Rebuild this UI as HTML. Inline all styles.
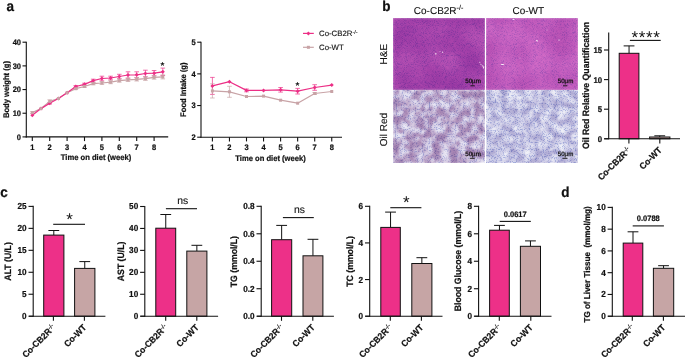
<!DOCTYPE html>
<html><head><meta charset="utf-8"><title>Figure</title>
<style>
html,body{margin:0;padding:0;background:#fff;}
body{width:685px;height:358px;overflow:hidden;}
svg{display:block;font-family:"Liberation Sans",sans-serif;will-change:transform;text-rendering:geometricPrecision;}
</style></head>
<body>
<svg width="685" height="358" viewBox="0 0 685 358">
<defs>
<filter id="he1" x="0" y="0" width="1" height="1" color-interpolation-filters="sRGB">
  <feTurbulence type="fractalNoise" baseFrequency="0.04" numOctaves="1" seed="3" result="a"/>
  <feColorMatrix in="a" type="matrix" values="1 0 0 0 0  1 0 0 0 0  1 0 0 0 0  0 0 0 0 1" result="ga"/>
  <feComponentTransfer in="ga" result="ca">
    <feFuncR type="table" tableValues="0.655 0.655 0.655 0.655 0.655 0.655 0.655 0.666 0.676 0.687 0.698 0.712 0.725 0.739 0.753 0.753 0.753 0.753 0.753 0.753 0.753"/><feFuncG type="table" tableValues="0.255 0.255 0.255 0.255 0.255 0.255 0.255 0.264 0.273 0.281 0.290 0.304 0.318 0.331 0.345 0.345 0.345 0.345 0.345 0.345 0.345"/><feFuncB type="table" tableValues="0.667 0.667 0.667 0.667 0.667 0.667 0.667 0.673 0.678 0.684 0.690 0.698 0.706 0.714 0.722 0.722 0.722 0.722 0.722 0.722 0.722"/>
  </feComponentTransfer>
  <feTurbulence type="fractalNoise" baseFrequency="1.1" numOctaves="2" seed="4" result="b"/>
  <feColorMatrix in="b" type="matrix" values="0 1 0 0 0  0 1 0 0 0  0 1 0 0 0  0 0 0 0 1" result="gb"/>
  <feComponentTransfer in="gb" result="cb">
    <feFuncR type="table" tableValues="0.627 0.627 0.627 0.627 0.627 0.627 0.699 0.770 0.842 0.891 0.925 0.949 0.973 0.990 1.000 1.000 1.000 1.000 1.000 1.000 1.000"/><feFuncG type="table" tableValues="0.667 0.667 0.667 0.667 0.667 0.667 0.715 0.764 0.812 0.852 0.886 0.918 0.949 0.981 1.000 1.000 1.000 1.000 1.000 1.000 1.000"/><feFuncB type="table" tableValues="0.871 0.871 0.871 0.871 0.871 0.871 0.894 0.917 0.940 0.956 0.969 0.976 0.984 0.994 1.000 1.000 1.000 1.000 1.000 1.000 1.000"/>
  </feComponentTransfer>
  <feBlend in="ca" in2="cb" mode="multiply" result="m"/>
  <feGaussianBlur in="m" stdDeviation="0.85" result="bl"/><feComposite in="bl" in2="m" operator="arithmetic" k1="0" k2="0.5" k3="0.5" k4="0"/>
</filter>
<filter id="he2" x="0" y="0" width="1" height="1" color-interpolation-filters="sRGB">
  <feTurbulence type="fractalNoise" baseFrequency="0.04" numOctaves="1" seed="9" result="a"/>
  <feColorMatrix in="a" type="matrix" values="1 0 0 0 0  1 0 0 0 0  1 0 0 0 0  0 0 0 0 1" result="ga"/>
  <feComponentTransfer in="ga" result="ca">
    <feFuncR type="table" tableValues="0.773 0.773 0.773 0.773 0.773 0.773 0.773 0.781 0.790 0.799 0.808 0.819 0.829 0.840 0.851 0.851 0.851 0.851 0.851 0.851 0.851"/><feFuncG type="table" tableValues="0.357 0.357 0.357 0.357 0.357 0.357 0.357 0.367 0.376 0.386 0.396 0.408 0.420 0.431 0.443 0.443 0.443 0.443 0.443 0.443 0.443"/><feFuncB type="table" tableValues="0.733 0.733 0.733 0.733 0.733 0.733 0.733 0.740 0.747 0.754 0.761 0.769 0.776 0.784 0.792 0.792 0.792 0.792 0.792 0.792 0.792"/>
  </feComponentTransfer>
  <feTurbulence type="fractalNoise" baseFrequency="1.1" numOctaves="2" seed="12" result="b"/>
  <feColorMatrix in="b" type="matrix" values="0 1 0 0 0  0 1 0 0 0  0 1 0 0 0  0 0 0 0 1" result="gb"/>
  <feComponentTransfer in="gb" result="cb">
    <feFuncR type="table" tableValues="0.667 0.667 0.667 0.667 0.667 0.667 0.731 0.796 0.860 0.904 0.933 0.955 0.976 0.991 1.000 1.000 1.000 1.000 1.000 1.000 1.000"/><feFuncG type="table" tableValues="0.706 0.706 0.706 0.706 0.706 0.706 0.747 0.789 0.830 0.865 0.894 0.925 0.957 0.984 1.000 1.000 1.000 1.000 1.000 1.000 1.000"/><feFuncB type="table" tableValues="0.894 0.894 0.894 0.894 0.894 0.894 0.911 0.929 0.946 0.960 0.973 0.980 0.988 0.996 1.000 1.000 1.000 1.000 1.000 1.000 1.000"/>
  </feComponentTransfer>
  <feBlend in="ca" in2="cb" mode="multiply" result="m"/>
  <feGaussianBlur in="m" stdDeviation="0.85" result="bl"/><feComposite in="bl" in2="m" operator="arithmetic" k1="0" k2="0.5" k3="0.5" k4="0"/>
</filter>
<filter id="or1" x="0" y="0" width="1" height="1" color-interpolation-filters="sRGB">
  <feTurbulence type="fractalNoise" baseFrequency="0.12" numOctaves="3" seed="5" result="a"/>
  <feColorMatrix in="a" type="matrix" values="1 0 0 0 0  1 0 0 0 0  1 0 0 0 0  0 0 0 0 1" result="ga"/>
  <feComponentTransfer in="ga" result="ca">
    <feFuncR type="table" tableValues="0.667 0.667 0.667 0.667 0.667 0.667 0.677 0.702 0.727 0.761 0.800 0.834 0.865 0.894 0.912 0.931 0.949 0.949 0.949 0.949 0.949"/><feFuncG type="table" tableValues="0.533 0.533 0.533 0.533 0.533 0.533 0.547 0.580 0.614 0.665 0.728 0.780 0.826 0.868 0.892 0.917 0.941 0.941 0.941 0.941 0.941"/><feFuncB type="table" tableValues="0.706 0.706 0.706 0.706 0.706 0.706 0.715 0.739 0.763 0.797 0.838 0.873 0.902 0.928 0.943 0.958 0.973 0.973 0.973 0.973 0.973"/>
  </feComponentTransfer>
  <feTurbulence type="fractalNoise" baseFrequency="0.85" numOctaves="2" seed="6" result="b"/>
  <feColorMatrix in="b" type="matrix" values="0 1 0 0 0  0 1 0 0 0  0 1 0 0 0  0 0 0 0 1" result="gb"/>
  <feComponentTransfer in="gb" result="cb">
    <feFuncR type="table" tableValues="0.549 0.549 0.549 0.549 0.549 0.549 0.611 0.713 0.816 0.918 1.000 1.000 1.000 1.000 1.000 1.000 1.000 1.000 1.000 1.000 1.000"/><feFuncG type="table" tableValues="0.588 0.588 0.588 0.588 0.588 0.588 0.641 0.728 0.816 0.918 1.000 1.000 1.000 1.000 1.000 1.000 1.000 1.000 1.000 1.000 1.000"/><feFuncB type="table" tableValues="0.831 0.831 0.831 0.831 0.831 0.831 0.855 0.894 0.933 0.970 1.000 1.000 1.000 1.000 1.000 1.000 1.000 1.000 1.000 1.000 1.000"/>
  </feComponentTransfer>
  <feBlend in="ca" in2="cb" mode="multiply" result="m"/>
  <feGaussianBlur in="m" stdDeviation="0.85" result="bl"/><feComposite in="bl" in2="m" operator="arithmetic" k1="0" k2="0.5" k3="0.5" k4="0"/>
</filter>
<filter id="or2" x="0" y="0" width="1" height="1" color-interpolation-filters="sRGB">
  <feTurbulence type="fractalNoise" baseFrequency="0.12" numOctaves="3" seed="15" result="a"/>
  <feColorMatrix in="a" type="matrix" values="1 0 0 0 0  1 0 0 0 0  1 0 0 0 0  0 0 0 0 1" result="ga"/>
  <feComponentTransfer in="ga" result="ca">
    <feFuncR type="table" tableValues="0.714 0.714 0.714 0.714 0.714 0.714 0.724 0.749 0.774 0.805 0.841 0.871 0.897 0.921 0.937 0.953 0.969 0.969 0.969 0.969 0.969"/><feFuncG type="table" tableValues="0.690 0.690 0.690 0.690 0.690 0.690 0.701 0.729 0.757 0.792 0.831 0.864 0.892 0.917 0.934 0.951 0.969 0.969 0.969 0.969 0.969"/><feFuncB type="table" tableValues="0.835 0.835 0.835 0.835 0.835 0.835 0.843 0.861 0.879 0.898 0.918 0.933 0.946 0.959 0.967 0.976 0.984 0.984 0.984 0.984 0.984"/>
  </feComponentTransfer>
  <feTurbulence type="fractalNoise" baseFrequency="0.85" numOctaves="2" seed="16" result="b"/>
  <feColorMatrix in="b" type="matrix" values="0 1 0 0 0  0 1 0 0 0  0 1 0 0 0  0 0 0 0 1" result="gb"/>
  <feComponentTransfer in="gb" result="cb">
    <feFuncR type="table" tableValues="0.510 0.510 0.510 0.510 0.510 0.510 0.575 0.684 0.792 0.908 1.000 1.000 1.000 1.000 1.000 1.000 1.000 1.000 1.000 1.000 1.000"/><feFuncG type="table" tableValues="0.573 0.573 0.573 0.573 0.573 0.573 0.627 0.717 0.808 0.915 1.000 1.000 1.000 1.000 1.000 1.000 1.000 1.000 1.000 1.000 1.000"/><feFuncB type="table" tableValues="0.831 0.831 0.831 0.831 0.831 0.831 0.855 0.894 0.933 0.970 1.000 1.000 1.000 1.000 1.000 1.000 1.000 1.000 1.000 1.000 1.000"/>
  </feComponentTransfer>
  <feBlend in="ca" in2="cb" mode="multiply" result="m"/>
  <feGaussianBlur in="m" stdDeviation="0.85" result="bl"/><feComposite in="bl" in2="m" operator="arithmetic" k1="0" k2="0.5" k3="0.5" k4="0"/>
</filter></defs>
<rect width="685" height="358" fill="#fff"/>
<text transform="translate(6.40 10.70) scale(0.94 1)" font-size="14.362" font-weight="bold" text-anchor="start" fill="#111" stroke="#111" stroke-width="0.22" >a</text>
<text transform="translate(382.20 10.70) scale(0.94 1)" font-size="14.362" font-weight="bold" text-anchor="start" fill="#111" stroke="#111" stroke-width="0.22" >b</text>
<text transform="translate(0.30 196.80) scale(0.94 1)" font-size="14.362" font-weight="bold" text-anchor="start" fill="#111" stroke="#111" stroke-width="0.22" >c</text>
<text transform="translate(561.30 196.80) scale(0.94 1)" font-size="14.362" font-weight="bold" text-anchor="start" fill="#111" stroke="#111" stroke-width="0.22" >d</text>
<line x1="26.30" y1="41.65" x2="26.30" y2="137.45" stroke="#111" stroke-width="1.1" />
<line x1="25.75" y1="136.90" x2="168.20" y2="136.90" stroke="#111" stroke-width="1.1" />
<line x1="22.50" y1="136.90" x2="26.30" y2="136.90" stroke="#111" stroke-width="1.1" />
<text transform="translate(21.00 139.60) scale(0.94 1)" font-size="7.979" font-weight="bold" text-anchor="end" fill="#111" stroke="#111" stroke-width="0.22" >0</text>
<line x1="22.50" y1="113.23" x2="26.30" y2="113.23" stroke="#111" stroke-width="1.1" />
<text transform="translate(21.00 115.93) scale(0.94 1)" font-size="7.979" font-weight="bold" text-anchor="end" fill="#111" stroke="#111" stroke-width="0.22" >10</text>
<line x1="22.50" y1="89.55" x2="26.30" y2="89.55" stroke="#111" stroke-width="1.1" />
<text transform="translate(21.00 92.25) scale(0.94 1)" font-size="7.979" font-weight="bold" text-anchor="end" fill="#111" stroke="#111" stroke-width="0.22" >20</text>
<line x1="22.50" y1="65.88" x2="26.30" y2="65.88" stroke="#111" stroke-width="1.1" />
<text transform="translate(21.00 68.58) scale(0.94 1)" font-size="7.979" font-weight="bold" text-anchor="end" fill="#111" stroke="#111" stroke-width="0.22" >30</text>
<line x1="22.50" y1="42.20" x2="26.30" y2="42.20" stroke="#111" stroke-width="1.1" />
<text transform="translate(21.00 44.90) scale(0.94 1)" font-size="7.979" font-weight="bold" text-anchor="end" fill="#111" stroke="#111" stroke-width="0.22" >40</text>
<line x1="32.30" y1="136.90" x2="32.30" y2="141.10" stroke="#111" stroke-width="1.1" />
<text transform="translate(32.30 149.50) scale(0.94 1)" font-size="7.979" font-weight="bold" text-anchor="middle" fill="#111" stroke="#111" stroke-width="0.22" >1</text>
<line x1="49.70" y1="136.90" x2="49.70" y2="141.10" stroke="#111" stroke-width="1.1" />
<text transform="translate(49.70 149.50) scale(0.94 1)" font-size="7.979" font-weight="bold" text-anchor="middle" fill="#111" stroke="#111" stroke-width="0.22" >2</text>
<line x1="67.10" y1="136.90" x2="67.10" y2="141.10" stroke="#111" stroke-width="1.1" />
<text transform="translate(67.10 149.50) scale(0.94 1)" font-size="7.979" font-weight="bold" text-anchor="middle" fill="#111" stroke="#111" stroke-width="0.22" >3</text>
<line x1="84.50" y1="136.90" x2="84.50" y2="141.10" stroke="#111" stroke-width="1.1" />
<text transform="translate(84.50 149.50) scale(0.94 1)" font-size="7.979" font-weight="bold" text-anchor="middle" fill="#111" stroke="#111" stroke-width="0.22" >4</text>
<line x1="101.90" y1="136.90" x2="101.90" y2="141.10" stroke="#111" stroke-width="1.1" />
<text transform="translate(101.90 149.50) scale(0.94 1)" font-size="7.979" font-weight="bold" text-anchor="middle" fill="#111" stroke="#111" stroke-width="0.22" >5</text>
<line x1="119.30" y1="136.90" x2="119.30" y2="141.10" stroke="#111" stroke-width="1.1" />
<text transform="translate(119.30 149.50) scale(0.94 1)" font-size="7.979" font-weight="bold" text-anchor="middle" fill="#111" stroke="#111" stroke-width="0.22" >6</text>
<line x1="136.70" y1="136.90" x2="136.70" y2="141.10" stroke="#111" stroke-width="1.1" />
<text transform="translate(136.70 149.50) scale(0.94 1)" font-size="7.979" font-weight="bold" text-anchor="middle" fill="#111" stroke="#111" stroke-width="0.22" >7</text>
<line x1="154.10" y1="136.90" x2="154.10" y2="141.10" stroke="#111" stroke-width="1.1" />
<text transform="translate(154.10 149.50) scale(0.94 1)" font-size="7.979" font-weight="bold" text-anchor="middle" fill="#111" stroke="#111" stroke-width="0.22" >8</text>
<text transform="translate(8.50 89.55) rotate(-90) scale(0.94 1)" font-size="8.085" font-weight="bold" text-anchor="middle" fill="#111" stroke="#111" stroke-width="0.22" >Body weight (g)</text>
<text transform="translate(96.00 160.20) scale(0.94 1)" font-size="8.085" font-weight="bold" text-anchor="middle" fill="#111" stroke="#111" stroke-width="0.22" >Time on diet (week)</text>
<line x1="49.70" y1="102.40" x2="49.70" y2="104.00" stroke="#EC2F86" stroke-width="0.7" />
<line x1="47.40" y1="102.40" x2="52.00" y2="102.40" stroke="#EC2F86" stroke-width="0.7" />
<line x1="47.40" y1="104.00" x2="52.00" y2="104.00" stroke="#EC2F86" stroke-width="0.7" />
<line x1="75.80" y1="85.60" x2="75.80" y2="87.40" stroke="#EC2F86" stroke-width="0.7" />
<line x1="73.50" y1="85.60" x2="78.10" y2="85.60" stroke="#EC2F86" stroke-width="0.7" />
<line x1="73.50" y1="87.40" x2="78.10" y2="87.40" stroke="#EC2F86" stroke-width="0.7" />
<line x1="84.50" y1="83.20" x2="84.50" y2="85.40" stroke="#EC2F86" stroke-width="0.7" />
<line x1="82.20" y1="83.20" x2="86.80" y2="83.20" stroke="#EC2F86" stroke-width="0.7" />
<line x1="82.20" y1="85.40" x2="86.80" y2="85.40" stroke="#EC2F86" stroke-width="0.7" />
<line x1="93.20" y1="79.20" x2="93.20" y2="82.20" stroke="#EC2F86" stroke-width="0.7" />
<line x1="90.90" y1="79.20" x2="95.50" y2="79.20" stroke="#EC2F86" stroke-width="0.7" />
<line x1="90.90" y1="82.20" x2="95.50" y2="82.20" stroke="#EC2F86" stroke-width="0.7" />
<line x1="101.90" y1="76.20" x2="101.90" y2="80.80" stroke="#EC2F86" stroke-width="0.7" />
<line x1="99.60" y1="76.20" x2="104.20" y2="76.20" stroke="#EC2F86" stroke-width="0.7" />
<line x1="99.60" y1="80.80" x2="104.20" y2="80.80" stroke="#EC2F86" stroke-width="0.7" />
<line x1="110.60" y1="76.20" x2="110.60" y2="79.80" stroke="#EC2F86" stroke-width="0.7" />
<line x1="108.30" y1="76.20" x2="112.90" y2="76.20" stroke="#EC2F86" stroke-width="0.7" />
<line x1="108.30" y1="79.80" x2="112.90" y2="79.80" stroke="#EC2F86" stroke-width="0.7" />
<line x1="119.30" y1="74.30" x2="119.30" y2="78.70" stroke="#EC2F86" stroke-width="0.7" />
<line x1="117.00" y1="74.30" x2="121.60" y2="74.30" stroke="#EC2F86" stroke-width="0.7" />
<line x1="117.00" y1="78.70" x2="121.60" y2="78.70" stroke="#EC2F86" stroke-width="0.7" />
<line x1="128.00" y1="71.80" x2="128.00" y2="78.20" stroke="#EC2F86" stroke-width="0.7" />
<line x1="125.70" y1="71.80" x2="130.30" y2="71.80" stroke="#EC2F86" stroke-width="0.7" />
<line x1="125.70" y1="78.20" x2="130.30" y2="78.20" stroke="#EC2F86" stroke-width="0.7" />
<line x1="136.70" y1="71.80" x2="136.70" y2="77.80" stroke="#EC2F86" stroke-width="0.7" />
<line x1="134.40" y1="71.80" x2="139.00" y2="71.80" stroke="#EC2F86" stroke-width="0.7" />
<line x1="134.40" y1="77.80" x2="139.00" y2="77.80" stroke="#EC2F86" stroke-width="0.7" />
<line x1="145.40" y1="70.20" x2="145.40" y2="76.80" stroke="#EC2F86" stroke-width="0.7" />
<line x1="143.10" y1="70.20" x2="147.70" y2="70.20" stroke="#EC2F86" stroke-width="0.7" />
<line x1="143.10" y1="76.80" x2="147.70" y2="76.80" stroke="#EC2F86" stroke-width="0.7" />
<line x1="154.10" y1="70.50" x2="154.10" y2="75.90" stroke="#EC2F86" stroke-width="0.7" />
<line x1="151.80" y1="70.50" x2="156.40" y2="70.50" stroke="#EC2F86" stroke-width="0.7" />
<line x1="151.80" y1="75.90" x2="156.40" y2="75.90" stroke="#EC2F86" stroke-width="0.7" />
<line x1="162.80" y1="68.10" x2="162.80" y2="75.50" stroke="#EC2F86" stroke-width="0.7" />
<line x1="160.50" y1="68.10" x2="165.10" y2="68.10" stroke="#EC2F86" stroke-width="0.7" />
<line x1="160.50" y1="75.50" x2="165.10" y2="75.50" stroke="#EC2F86" stroke-width="0.7" />
<line x1="32.30" y1="111.70" x2="32.30" y2="113.50" stroke="#C8A3A6" stroke-width="0.7" />
<line x1="30.00" y1="111.70" x2="34.60" y2="111.70" stroke="#C8A3A6" stroke-width="0.7" />
<line x1="30.00" y1="113.50" x2="34.60" y2="113.50" stroke="#C8A3A6" stroke-width="0.7" />
<line x1="49.70" y1="99.80" x2="49.70" y2="103.00" stroke="#C8A3A6" stroke-width="0.7" />
<line x1="47.40" y1="99.80" x2="52.00" y2="99.80" stroke="#C8A3A6" stroke-width="0.7" />
<line x1="47.40" y1="103.00" x2="52.00" y2="103.00" stroke="#C8A3A6" stroke-width="0.7" />
<line x1="75.80" y1="87.90" x2="75.80" y2="89.50" stroke="#C8A3A6" stroke-width="0.7" />
<line x1="73.50" y1="87.90" x2="78.10" y2="87.90" stroke="#C8A3A6" stroke-width="0.7" />
<line x1="73.50" y1="89.50" x2="78.10" y2="89.50" stroke="#C8A3A6" stroke-width="0.7" />
<line x1="84.50" y1="85.50" x2="84.50" y2="87.50" stroke="#C8A3A6" stroke-width="0.7" />
<line x1="82.20" y1="85.50" x2="86.80" y2="85.50" stroke="#C8A3A6" stroke-width="0.7" />
<line x1="82.20" y1="87.50" x2="86.80" y2="87.50" stroke="#C8A3A6" stroke-width="0.7" />
<line x1="93.20" y1="82.40" x2="93.20" y2="84.80" stroke="#C8A3A6" stroke-width="0.7" />
<line x1="90.90" y1="82.40" x2="95.50" y2="82.40" stroke="#C8A3A6" stroke-width="0.7" />
<line x1="90.90" y1="84.80" x2="95.50" y2="84.80" stroke="#C8A3A6" stroke-width="0.7" />
<line x1="101.90" y1="81.60" x2="101.90" y2="84.40" stroke="#C8A3A6" stroke-width="0.7" />
<line x1="99.60" y1="81.60" x2="104.20" y2="81.60" stroke="#C8A3A6" stroke-width="0.7" />
<line x1="99.60" y1="84.40" x2="104.20" y2="84.40" stroke="#C8A3A6" stroke-width="0.7" />
<line x1="110.60" y1="80.70" x2="110.60" y2="83.70" stroke="#C8A3A6" stroke-width="0.7" />
<line x1="108.30" y1="80.70" x2="112.90" y2="80.70" stroke="#C8A3A6" stroke-width="0.7" />
<line x1="108.30" y1="83.70" x2="112.90" y2="83.70" stroke="#C8A3A6" stroke-width="0.7" />
<line x1="119.30" y1="79.00" x2="119.30" y2="82.20" stroke="#C8A3A6" stroke-width="0.7" />
<line x1="117.00" y1="79.00" x2="121.60" y2="79.00" stroke="#C8A3A6" stroke-width="0.7" />
<line x1="117.00" y1="82.20" x2="121.60" y2="82.20" stroke="#C8A3A6" stroke-width="0.7" />
<line x1="128.00" y1="78.10" x2="128.00" y2="81.50" stroke="#C8A3A6" stroke-width="0.7" />
<line x1="125.70" y1="78.10" x2="130.30" y2="78.10" stroke="#C8A3A6" stroke-width="0.7" />
<line x1="125.70" y1="81.50" x2="130.30" y2="81.50" stroke="#C8A3A6" stroke-width="0.7" />
<line x1="136.70" y1="77.60" x2="136.70" y2="81.00" stroke="#C8A3A6" stroke-width="0.7" />
<line x1="134.40" y1="77.60" x2="139.00" y2="77.60" stroke="#C8A3A6" stroke-width="0.7" />
<line x1="134.40" y1="81.00" x2="139.00" y2="81.00" stroke="#C8A3A6" stroke-width="0.7" />
<line x1="145.40" y1="76.80" x2="145.40" y2="80.40" stroke="#C8A3A6" stroke-width="0.7" />
<line x1="143.10" y1="76.80" x2="147.70" y2="76.80" stroke="#C8A3A6" stroke-width="0.7" />
<line x1="143.10" y1="80.40" x2="147.70" y2="80.40" stroke="#C8A3A6" stroke-width="0.7" />
<line x1="154.10" y1="75.60" x2="154.10" y2="79.20" stroke="#C8A3A6" stroke-width="0.7" />
<line x1="151.80" y1="75.60" x2="156.40" y2="75.60" stroke="#C8A3A6" stroke-width="0.7" />
<line x1="151.80" y1="79.20" x2="156.40" y2="79.20" stroke="#C8A3A6" stroke-width="0.7" />
<line x1="162.80" y1="74.90" x2="162.80" y2="78.90" stroke="#C8A3A6" stroke-width="0.7" />
<line x1="160.50" y1="74.90" x2="165.10" y2="74.90" stroke="#C8A3A6" stroke-width="0.7" />
<line x1="160.50" y1="78.90" x2="165.10" y2="78.90" stroke="#C8A3A6" stroke-width="0.7" />
<polyline points="32.30,112.60 41.00,108.60 49.70,101.40 58.40,98.50 67.10,92.70 75.80,88.70 84.50,86.50 93.20,83.60 101.90,83.00 110.60,82.20 119.30,80.60 128.00,79.80 136.70,79.30 145.40,78.60 154.10,77.40 162.80,76.90" fill="none" stroke="#C8A3A6" stroke-width="1.25" stroke-linejoin="round"/>
<polyline points="32.30,115.20 41.00,108.60 49.70,103.20 58.40,98.50 67.10,92.70 75.80,86.50 84.50,84.30 93.20,80.70 101.90,78.50 110.60,78.00 119.30,76.50 128.00,75.00 136.70,74.80 145.40,73.50 154.10,73.20 162.80,71.80" fill="none" stroke="#EC2F86" stroke-width="1.25" stroke-linejoin="round"/>
<path d="M30.30 115.20L32.30 113.20L34.30 115.20L32.30 117.20Z" fill="#EC2F86"/>
<path d="M39.00 108.60L41.00 106.60L43.00 108.60L41.00 110.60Z" fill="#EC2F86"/>
<path d="M47.70 103.20L49.70 101.20L51.70 103.20L49.70 105.20Z" fill="#EC2F86"/>
<path d="M56.40 98.50L58.40 96.50L60.40 98.50L58.40 100.50Z" fill="#EC2F86"/>
<path d="M65.10 92.70L67.10 90.70L69.10 92.70L67.10 94.70Z" fill="#EC2F86"/>
<path d="M73.80 86.50L75.80 84.50L77.80 86.50L75.80 88.50Z" fill="#EC2F86"/>
<path d="M82.50 84.30L84.50 82.30L86.50 84.30L84.50 86.30Z" fill="#EC2F86"/>
<path d="M91.20 80.70L93.20 78.70L95.20 80.70L93.20 82.70Z" fill="#EC2F86"/>
<path d="M99.90 78.50L101.90 76.50L103.90 78.50L101.90 80.50Z" fill="#EC2F86"/>
<path d="M108.60 78.00L110.60 76.00L112.60 78.00L110.60 80.00Z" fill="#EC2F86"/>
<path d="M117.30 76.50L119.30 74.50L121.30 76.50L119.30 78.50Z" fill="#EC2F86"/>
<path d="M126.00 75.00L128.00 73.00L130.00 75.00L128.00 77.00Z" fill="#EC2F86"/>
<path d="M134.70 74.80L136.70 72.80L138.70 74.80L136.70 76.80Z" fill="#EC2F86"/>
<path d="M143.40 73.50L145.40 71.50L147.40 73.50L145.40 75.50Z" fill="#EC2F86"/>
<path d="M152.10 73.20L154.10 71.20L156.10 73.20L154.10 75.20Z" fill="#EC2F86"/>
<path d="M160.80 71.80L162.80 69.80L164.80 71.80L162.80 73.80Z" fill="#EC2F86"/>
<rect x="30.80" y="111.10" width="3.0" height="3.0" fill="#C8A3A6"/>
<rect x="39.50" y="107.10" width="3.0" height="3.0" fill="#C8A3A6"/>
<rect x="48.20" y="99.90" width="3.0" height="3.0" fill="#C8A3A6"/>
<rect x="56.90" y="97.00" width="3.0" height="3.0" fill="#C8A3A6"/>
<rect x="65.60" y="91.20" width="3.0" height="3.0" fill="#C8A3A6"/>
<rect x="74.30" y="87.20" width="3.0" height="3.0" fill="#C8A3A6"/>
<rect x="83.00" y="85.00" width="3.0" height="3.0" fill="#C8A3A6"/>
<rect x="91.70" y="82.10" width="3.0" height="3.0" fill="#C8A3A6"/>
<rect x="100.40" y="81.50" width="3.0" height="3.0" fill="#C8A3A6"/>
<rect x="109.10" y="80.70" width="3.0" height="3.0" fill="#C8A3A6"/>
<rect x="117.80" y="79.10" width="3.0" height="3.0" fill="#C8A3A6"/>
<rect x="126.50" y="78.30" width="3.0" height="3.0" fill="#C8A3A6"/>
<rect x="135.20" y="77.80" width="3.0" height="3.0" fill="#C8A3A6"/>
<rect x="143.90" y="77.10" width="3.0" height="3.0" fill="#C8A3A6"/>
<rect x="152.60" y="75.90" width="3.0" height="3.0" fill="#C8A3A6"/>
<rect x="161.30" y="75.40" width="3.0" height="3.0" fill="#C8A3A6"/>
<text x="162.50" y="68.60" font-size="10" font-weight="bold" text-anchor="middle" fill="#111" >*</text>
<line x1="201.00" y1="41.65" x2="201.00" y2="137.75" stroke="#111" stroke-width="1.1" />
<line x1="200.45" y1="137.20" x2="342.00" y2="137.20" stroke="#111" stroke-width="1.1" />
<line x1="197.20" y1="137.20" x2="201.00" y2="137.20" stroke="#111" stroke-width="1.1" />
<text transform="translate(195.70 139.90) scale(0.94 1)" font-size="7.979" font-weight="bold" text-anchor="end" fill="#111" stroke="#111" stroke-width="0.22" >2</text>
<line x1="197.20" y1="105.53" x2="201.00" y2="105.53" stroke="#111" stroke-width="1.1" />
<text transform="translate(195.70 108.23) scale(0.94 1)" font-size="7.979" font-weight="bold" text-anchor="end" fill="#111" stroke="#111" stroke-width="0.22" >3</text>
<line x1="197.20" y1="73.87" x2="201.00" y2="73.87" stroke="#111" stroke-width="1.1" />
<text transform="translate(195.70 76.57) scale(0.94 1)" font-size="7.979" font-weight="bold" text-anchor="end" fill="#111" stroke="#111" stroke-width="0.22" >4</text>
<line x1="197.20" y1="42.20" x2="201.00" y2="42.20" stroke="#111" stroke-width="1.1" />
<text transform="translate(195.70 44.90) scale(0.94 1)" font-size="7.979" font-weight="bold" text-anchor="end" fill="#111" stroke="#111" stroke-width="0.22" >5</text>
<line x1="212.40" y1="137.20" x2="212.40" y2="141.40" stroke="#111" stroke-width="1.1" />
<text transform="translate(212.40 149.80) scale(0.94 1)" font-size="7.979" font-weight="bold" text-anchor="middle" fill="#111" stroke="#111" stroke-width="0.22" >1</text>
<line x1="229.45" y1="137.20" x2="229.45" y2="141.40" stroke="#111" stroke-width="1.1" />
<text transform="translate(229.45 149.80) scale(0.94 1)" font-size="7.979" font-weight="bold" text-anchor="middle" fill="#111" stroke="#111" stroke-width="0.22" >2</text>
<line x1="246.50" y1="137.20" x2="246.50" y2="141.40" stroke="#111" stroke-width="1.1" />
<text transform="translate(246.50 149.80) scale(0.94 1)" font-size="7.979" font-weight="bold" text-anchor="middle" fill="#111" stroke="#111" stroke-width="0.22" >3</text>
<line x1="263.55" y1="137.20" x2="263.55" y2="141.40" stroke="#111" stroke-width="1.1" />
<text transform="translate(263.55 149.80) scale(0.94 1)" font-size="7.979" font-weight="bold" text-anchor="middle" fill="#111" stroke="#111" stroke-width="0.22" >4</text>
<line x1="280.60" y1="137.20" x2="280.60" y2="141.40" stroke="#111" stroke-width="1.1" />
<text transform="translate(280.60 149.80) scale(0.94 1)" font-size="7.979" font-weight="bold" text-anchor="middle" fill="#111" stroke="#111" stroke-width="0.22" >5</text>
<line x1="297.65" y1="137.20" x2="297.65" y2="141.40" stroke="#111" stroke-width="1.1" />
<text transform="translate(297.65 149.80) scale(0.94 1)" font-size="7.979" font-weight="bold" text-anchor="middle" fill="#111" stroke="#111" stroke-width="0.22" >6</text>
<line x1="314.70" y1="137.20" x2="314.70" y2="141.40" stroke="#111" stroke-width="1.1" />
<text transform="translate(314.70 149.80) scale(0.94 1)" font-size="7.979" font-weight="bold" text-anchor="middle" fill="#111" stroke="#111" stroke-width="0.22" >7</text>
<line x1="331.75" y1="137.20" x2="331.75" y2="141.40" stroke="#111" stroke-width="1.1" />
<text transform="translate(331.75 149.80) scale(0.94 1)" font-size="7.979" font-weight="bold" text-anchor="middle" fill="#111" stroke="#111" stroke-width="0.22" >8</text>
<text transform="translate(185.90 89.70) rotate(-90) scale(0.94 1)" font-size="8.085" font-weight="bold" text-anchor="middle" fill="#111" stroke="#111" stroke-width="0.22" >Food Intake (g)</text>
<text transform="translate(270.50 160.50) scale(0.94 1)" font-size="8.085" font-weight="bold" text-anchor="middle" fill="#111" stroke="#111" stroke-width="0.22" >Time on diet (week)</text>
<line x1="212.40" y1="77.40" x2="212.40" y2="94.40" stroke="#EC2F86" stroke-width="0.7" />
<line x1="210.10" y1="77.40" x2="214.70" y2="77.40" stroke="#EC2F86" stroke-width="0.7" />
<line x1="210.10" y1="94.40" x2="214.70" y2="94.40" stroke="#EC2F86" stroke-width="0.7" />
<line x1="246.50" y1="89.00" x2="246.50" y2="91.80" stroke="#EC2F86" stroke-width="0.7" />
<line x1="244.20" y1="89.00" x2="248.80" y2="89.00" stroke="#EC2F86" stroke-width="0.7" />
<line x1="244.20" y1="91.80" x2="248.80" y2="91.80" stroke="#EC2F86" stroke-width="0.7" />
<line x1="280.60" y1="87.50" x2="280.60" y2="92.10" stroke="#EC2F86" stroke-width="0.7" />
<line x1="278.30" y1="87.50" x2="282.90" y2="87.50" stroke="#EC2F86" stroke-width="0.7" />
<line x1="278.30" y1="92.10" x2="282.90" y2="92.10" stroke="#EC2F86" stroke-width="0.7" />
<line x1="297.65" y1="88.40" x2="297.65" y2="94.00" stroke="#EC2F86" stroke-width="0.7" />
<line x1="295.35" y1="88.40" x2="299.95" y2="88.40" stroke="#EC2F86" stroke-width="0.7" />
<line x1="295.35" y1="94.00" x2="299.95" y2="94.00" stroke="#EC2F86" stroke-width="0.7" />
<line x1="314.70" y1="84.70" x2="314.70" y2="90.30" stroke="#EC2F86" stroke-width="0.7" />
<line x1="312.40" y1="84.70" x2="317.00" y2="84.70" stroke="#EC2F86" stroke-width="0.7" />
<line x1="312.40" y1="90.30" x2="317.00" y2="90.30" stroke="#EC2F86" stroke-width="0.7" />
<line x1="212.40" y1="83.80" x2="212.40" y2="98.00" stroke="#C8A3A6" stroke-width="0.7" />
<line x1="210.10" y1="83.80" x2="214.70" y2="83.80" stroke="#C8A3A6" stroke-width="0.7" />
<line x1="210.10" y1="98.00" x2="214.70" y2="98.00" stroke="#C8A3A6" stroke-width="0.7" />
<line x1="229.45" y1="86.30" x2="229.45" y2="97.30" stroke="#C8A3A6" stroke-width="0.7" />
<line x1="227.15" y1="86.30" x2="231.75" y2="86.30" stroke="#C8A3A6" stroke-width="0.7" />
<line x1="227.15" y1="97.30" x2="231.75" y2="97.30" stroke="#C8A3A6" stroke-width="0.7" />
<line x1="314.70" y1="92.50" x2="314.70" y2="94.50" stroke="#C8A3A6" stroke-width="0.7" />
<line x1="312.40" y1="92.50" x2="317.00" y2="92.50" stroke="#C8A3A6" stroke-width="0.7" />
<line x1="312.40" y1="94.50" x2="317.00" y2="94.50" stroke="#C8A3A6" stroke-width="0.7" />
<polyline points="212.40,90.90 229.45,91.80 246.50,96.50 263.55,96.10 280.60,100.20 297.65,103.20 314.70,93.50 331.75,91.50" fill="none" stroke="#C8A3A6" stroke-width="1.25" stroke-linejoin="round"/>
<polyline points="212.40,85.90 229.45,81.70 246.50,90.40 263.55,90.40 280.60,89.80 297.65,91.20 314.70,87.50 331.75,85.10" fill="none" stroke="#EC2F86" stroke-width="1.25" stroke-linejoin="round"/>
<path d="M210.40 85.90L212.40 83.90L214.40 85.90L212.40 87.90Z" fill="#EC2F86"/>
<path d="M227.45 81.70L229.45 79.70L231.45 81.70L229.45 83.70Z" fill="#EC2F86"/>
<path d="M244.50 90.40L246.50 88.40L248.50 90.40L246.50 92.40Z" fill="#EC2F86"/>
<path d="M261.55 90.40L263.55 88.40L265.55 90.40L263.55 92.40Z" fill="#EC2F86"/>
<path d="M278.60 89.80L280.60 87.80L282.60 89.80L280.60 91.80Z" fill="#EC2F86"/>
<path d="M295.65 91.20L297.65 89.20L299.65 91.20L297.65 93.20Z" fill="#EC2F86"/>
<path d="M312.70 87.50L314.70 85.50L316.70 87.50L314.70 89.50Z" fill="#EC2F86"/>
<path d="M329.75 85.10L331.75 83.10L333.75 85.10L331.75 87.10Z" fill="#EC2F86"/>
<rect x="210.90" y="89.40" width="3.0" height="3.0" fill="#C8A3A6"/>
<rect x="227.95" y="90.30" width="3.0" height="3.0" fill="#C8A3A6"/>
<rect x="245.00" y="95.00" width="3.0" height="3.0" fill="#C8A3A6"/>
<rect x="262.05" y="94.60" width="3.0" height="3.0" fill="#C8A3A6"/>
<rect x="279.10" y="98.70" width="3.0" height="3.0" fill="#C8A3A6"/>
<rect x="296.15" y="101.70" width="3.0" height="3.0" fill="#C8A3A6"/>
<rect x="313.20" y="92.00" width="3.0" height="3.0" fill="#C8A3A6"/>
<rect x="330.25" y="90.00" width="3.0" height="3.0" fill="#C8A3A6"/>
<text x="297.50" y="88.50" font-size="10" font-weight="bold" text-anchor="middle" fill="#111" >*</text>
<line x1="303.00" y1="33.40" x2="313.80" y2="33.40" stroke="#EC2F86" stroke-width="1.2" />
<path d="M306.40 33.40L308.40 31.40L310.40 33.40L308.40 35.40Z" fill="#EC2F86"/>
<text x="319.00" y="36.25" font-size="7.8" font-weight="normal" text-anchor="start" fill="#111" stroke="#111" stroke-width="0.12">Co-CB2R<tspan font-size="5.62" dy="-2.57">-/-</tspan></text>
<line x1="303.00" y1="47.30" x2="313.80" y2="47.30" stroke="#C8A3A6" stroke-width="1.2" />
<rect x="306.90" y="45.80" width="3.0" height="3.0" fill="#C8A3A6"/>
<text x="319.00" y="50.15" font-size="7.8" font-weight="normal" text-anchor="start" fill="#111" stroke="#111" stroke-width="0.12">Co-WT</text>
<rect x="393.6" y="18.5" width="91.3" height="70.8" filter="url(#he1)" fill="#fff"/>
<rect x="486.1" y="18.5" width="91.0" height="70.8" filter="url(#he2)" fill="#fff"/>
<rect x="393.6" y="90.8" width="91.3" height="71.5" filter="url(#or1)" fill="#fff"/>
<rect x="486.1" y="90.8" width="91.0" height="71.5" filter="url(#or2)" fill="#fff"/>
<ellipse cx="435.8" cy="53.8" rx="0.9" ry="0.6" fill="#fff" opacity="0.92" transform="rotate(0 435.8 53.8)"/>
<ellipse cx="442.7" cy="52.2" rx="0.5" ry="0.8" fill="#fff" opacity="0.92" transform="rotate(0 442.7 52.2)"/>
<ellipse cx="440" cy="51.5" rx="0.4" ry="0.4" fill="#fff" opacity="0.92" transform="rotate(0 440 51.5)"/>
<ellipse cx="479.8" cy="62.2" rx="0.5" ry="0.5" fill="#fff" opacity="0.92" transform="rotate(0 479.8 62.2)"/>
<ellipse cx="483.2" cy="66.8" rx="0.5" ry="2.0" fill="#fff" opacity="0.92" transform="rotate(-20 483.2 66.8)"/>
<ellipse cx="481.0" cy="64.5" rx="0.4" ry="0.8" fill="#fff" opacity="0.92" transform="rotate(-30 481.0 64.5)"/>
<ellipse cx="537.0" cy="40.8" rx="1.0" ry="0.6" fill="#fff" opacity="0.92" transform="rotate(30 537.0 40.8)"/>
<ellipse cx="502.5" cy="64.4" rx="1.8" ry="0.5" fill="#fff" opacity="0.92" transform="rotate(0 502.5 64.4)"/>
<ellipse cx="559.0" cy="40.0" rx="0.7" ry="0.5" fill="#fff" opacity="0.92" transform="rotate(0 559.0 40.0)"/>
<ellipse cx="513.5" cy="19.5" rx="1.0" ry="0.5" fill="#fff" opacity="0.92" transform="rotate(0 513.5 19.5)"/>
<ellipse cx="520" cy="58" rx="0.4" ry="0.4" fill="#fff" opacity="0.92" transform="rotate(0 520 58)"/>
<ellipse cx="547" cy="30" rx="0.4" ry="0.4" fill="#fff" opacity="0.92" transform="rotate(0 547 30)"/>
<text x="413.80" y="13.70" font-size="10.0" font-weight="normal" text-anchor="start" fill="#111" stroke="#111" stroke-width="0.12">Co-CB2R<tspan font-size="7.2" dy="-3.3">-/-</tspan></text>
<text x="528.35" y="13.70" font-size="10.0" font-weight="normal" text-anchor="middle" fill="#111" stroke="#111" stroke-width="0.12">Co-WT</text>
<text x="387.40" y="54.20" font-size="10.0" font-weight="normal" text-anchor="middle" fill="#111" transform="rotate(-90 387.40 54.20)" stroke="#111" stroke-width="0.12">H&amp;E</text>
<text x="387.50" y="129.60" font-size="10.0" font-weight="normal" text-anchor="middle" fill="#111" transform="rotate(-90 387.50 129.60)" stroke="#111" stroke-width="0.12">Oil Red</text>
<text x="473.00" y="83.20" font-size="6.2" font-weight="normal" text-anchor="middle" fill="#111" stroke="#111" stroke-width="0.25">50µm</text>
<line x1="470.40" y1="85.80" x2="474.80" y2="85.80" stroke="#111" stroke-width="0.9" />
<text x="565.50" y="83.20" font-size="6.2" font-weight="normal" text-anchor="middle" fill="#111" stroke="#111" stroke-width="0.25">50µm</text>
<line x1="563.00" y1="85.80" x2="567.40" y2="85.80" stroke="#111" stroke-width="0.9" />
<text x="473.00" y="155.60" font-size="6.2" font-weight="normal" text-anchor="middle" fill="#111" stroke="#111" stroke-width="0.25">50µm</text>
<line x1="469.80" y1="158.30" x2="474.80" y2="158.30" stroke="#111" stroke-width="0.9" />
<text x="565.50" y="155.60" font-size="6.2" font-weight="normal" text-anchor="middle" fill="#111" stroke="#111" stroke-width="0.25">50µm</text>
<line x1="562.50" y1="158.30" x2="567.50" y2="158.30" stroke="#111" stroke-width="0.9" />
<line x1="608.70" y1="32.50" x2="608.70" y2="139.35" stroke="#111" stroke-width="1.1" />
<line x1="604.00" y1="138.80" x2="608.70" y2="138.80" stroke="#111" stroke-width="1.1" />
<text transform="translate(602.10 141.75) scale(0.94 1)" font-size="8.298" font-weight="bold" text-anchor="end" fill="#111" stroke="#111" stroke-width="0.22" >0</text>
<line x1="604.00" y1="109.20" x2="608.70" y2="109.20" stroke="#111" stroke-width="1.1" />
<text transform="translate(602.10 112.15) scale(0.94 1)" font-size="8.298" font-weight="bold" text-anchor="end" fill="#111" stroke="#111" stroke-width="0.22" >5</text>
<line x1="604.00" y1="79.60" x2="608.70" y2="79.60" stroke="#111" stroke-width="1.1" />
<text transform="translate(602.10 82.55) scale(0.94 1)" font-size="8.298" font-weight="bold" text-anchor="end" fill="#111" stroke="#111" stroke-width="0.22" >10</text>
<line x1="604.00" y1="50.00" x2="608.70" y2="50.00" stroke="#111" stroke-width="1.1" />
<text transform="translate(602.10 52.95) scale(0.94 1)" font-size="8.298" font-weight="bold" text-anchor="end" fill="#111" stroke="#111" stroke-width="0.22" >15</text>
<line x1="629.05" y1="45.90" x2="629.05" y2="53.30" stroke="#111" stroke-width="1.0" />
<line x1="623.65" y1="45.90" x2="634.45" y2="45.90" stroke="#111" stroke-width="1.0" />
<rect x="619.20" y="53.30" width="19.70" height="85.50" fill="#ED3088" stroke="#111" stroke-width="1.0"/>
<line x1="659.75" y1="135.80" x2="659.75" y2="137.00" stroke="#111" stroke-width="1.0" />
<line x1="654.35" y1="135.80" x2="665.15" y2="135.80" stroke="#111" stroke-width="1.0" />
<rect x="649.60" y="137.00" width="20.30" height="1.80" fill="#C6A5A5" stroke="#111" stroke-width="1.0"/>
<line x1="604.40" y1="138.80" x2="680.00" y2="138.80" stroke="#111" stroke-width="1.1" />
<line x1="628.90" y1="138.80" x2="628.90" y2="143.40" stroke="#111" stroke-width="1.1" />
<text transform="translate(631.40 150.80) rotate(-45) scale(0.94 1)" font-size="8.989" font-weight="bold" text-anchor="end" fill="#111" stroke="#111" stroke-width="0.22" >Co-CB2R<tspan font-size="6.08" dy="-2.79" font-weight="normal">-/-</tspan></text>
<line x1="659.80" y1="138.80" x2="659.80" y2="143.40" stroke="#111" stroke-width="1.1" />
<text transform="translate(662.30 150.80) rotate(-45) scale(0.94 1)" font-size="8.989" font-weight="bold" text-anchor="end" fill="#111" stroke="#111" stroke-width="0.22" >Co-WT</text>
<line x1="629.90" y1="40.40" x2="660.70" y2="40.40" stroke="#111" stroke-width="1.1" />
<text x="631.40" y="42.90" font-size="17" font-weight="normal" text-anchor="start" fill="#111" letter-spacing="0.7">****</text>
<text transform="translate(589.20 85.50) rotate(-90) scale(0.94 1)" font-size="9.255" font-weight="bold" text-anchor="middle" fill="#111" stroke="#111" stroke-width="0.22" >Oil Red Relative Quantification</text>
<line x1="33.20" y1="205.85" x2="33.20" y2="316.75" stroke="#111" stroke-width="1.1" />
<line x1="28.50" y1="316.20" x2="33.20" y2="316.20" stroke="#111" stroke-width="1.1" />
<text transform="translate(26.60 319.15) scale(0.94 1)" font-size="8.723" font-weight="bold" text-anchor="end" fill="#111" stroke="#111" stroke-width="0.22" >0</text>
<line x1="28.50" y1="294.24" x2="33.20" y2="294.24" stroke="#111" stroke-width="1.1" />
<text transform="translate(26.60 297.19) scale(0.94 1)" font-size="8.723" font-weight="bold" text-anchor="end" fill="#111" stroke="#111" stroke-width="0.22" >5</text>
<line x1="28.50" y1="272.28" x2="33.20" y2="272.28" stroke="#111" stroke-width="1.1" />
<text transform="translate(26.60 275.23) scale(0.94 1)" font-size="8.723" font-weight="bold" text-anchor="end" fill="#111" stroke="#111" stroke-width="0.22" >10</text>
<line x1="28.50" y1="250.32" x2="33.20" y2="250.32" stroke="#111" stroke-width="1.1" />
<text transform="translate(26.60 253.27) scale(0.94 1)" font-size="8.723" font-weight="bold" text-anchor="end" fill="#111" stroke="#111" stroke-width="0.22" >15</text>
<line x1="28.50" y1="228.36" x2="33.20" y2="228.36" stroke="#111" stroke-width="1.1" />
<text transform="translate(26.60 231.31) scale(0.94 1)" font-size="8.723" font-weight="bold" text-anchor="end" fill="#111" stroke="#111" stroke-width="0.22" >20</text>
<line x1="28.50" y1="206.40" x2="33.20" y2="206.40" stroke="#111" stroke-width="1.1" />
<text transform="translate(26.60 209.35) scale(0.94 1)" font-size="8.723" font-weight="bold" text-anchor="end" fill="#111" stroke="#111" stroke-width="0.22" >25</text>
<line x1="53.80" y1="230.50" x2="53.80" y2="235.10" stroke="#111" stroke-width="1.0" />
<line x1="48.40" y1="230.50" x2="59.20" y2="230.50" stroke="#111" stroke-width="1.0" />
<rect x="43.70" y="235.10" width="20.20" height="81.10" fill="#ED3088" stroke="#111" stroke-width="1.0"/>
<line x1="84.75" y1="261.60" x2="84.75" y2="268.40" stroke="#111" stroke-width="1.0" />
<line x1="79.35" y1="261.60" x2="90.15" y2="261.60" stroke="#111" stroke-width="1.0" />
<rect x="74.60" y="268.40" width="20.30" height="47.80" fill="#C6A5A5" stroke="#111" stroke-width="1.0"/>
<line x1="28.90" y1="316.20" x2="105.40" y2="316.20" stroke="#111" stroke-width="1.1" />
<line x1="53.40" y1="316.20" x2="53.40" y2="320.80" stroke="#111" stroke-width="1.1" />
<text transform="translate(55.90 328.20) rotate(-45) scale(0.94 1)" font-size="8.989" font-weight="bold" text-anchor="end" fill="#111" stroke="#111" stroke-width="0.22" >Co-CB2R<tspan font-size="6.08" dy="-2.79" font-weight="normal">-/-</tspan></text>
<line x1="84.40" y1="316.20" x2="84.40" y2="320.80" stroke="#111" stroke-width="1.1" />
<text transform="translate(86.90 328.20) rotate(-45) scale(0.94 1)" font-size="8.989" font-weight="bold" text-anchor="end" fill="#111" stroke="#111" stroke-width="0.22" >Co-WT</text>
<line x1="53.20" y1="224.30" x2="85.00" y2="224.30" stroke="#111" stroke-width="1.1" />
<text x="69.60" y="224.80" font-size="17" font-weight="normal" text-anchor="middle" fill="#111" >*</text>
<text transform="translate(10.90 261.40) rotate(-90) scale(0.94 1)" font-size="9.255" font-weight="bold" text-anchor="middle" fill="#111" stroke="#111" stroke-width="0.22" >ALT (U/L)</text>
<line x1="144.80" y1="205.95" x2="144.80" y2="316.75" stroke="#111" stroke-width="1.1" />
<line x1="140.10" y1="316.20" x2="144.80" y2="316.20" stroke="#111" stroke-width="1.1" />
<text transform="translate(138.20 319.15) scale(0.94 1)" font-size="8.723" font-weight="bold" text-anchor="end" fill="#111" stroke="#111" stroke-width="0.22" >0</text>
<line x1="140.10" y1="294.26" x2="144.80" y2="294.26" stroke="#111" stroke-width="1.1" />
<text transform="translate(138.20 297.21) scale(0.94 1)" font-size="8.723" font-weight="bold" text-anchor="end" fill="#111" stroke="#111" stroke-width="0.22" >10</text>
<line x1="140.10" y1="272.32" x2="144.80" y2="272.32" stroke="#111" stroke-width="1.1" />
<text transform="translate(138.20 275.27) scale(0.94 1)" font-size="8.723" font-weight="bold" text-anchor="end" fill="#111" stroke="#111" stroke-width="0.22" >20</text>
<line x1="140.10" y1="250.38" x2="144.80" y2="250.38" stroke="#111" stroke-width="1.1" />
<text transform="translate(138.20 253.33) scale(0.94 1)" font-size="8.723" font-weight="bold" text-anchor="end" fill="#111" stroke="#111" stroke-width="0.22" >30</text>
<line x1="140.10" y1="228.44" x2="144.80" y2="228.44" stroke="#111" stroke-width="1.1" />
<text transform="translate(138.20 231.39) scale(0.94 1)" font-size="8.723" font-weight="bold" text-anchor="end" fill="#111" stroke="#111" stroke-width="0.22" >40</text>
<line x1="140.10" y1="206.50" x2="144.80" y2="206.50" stroke="#111" stroke-width="1.1" />
<text transform="translate(138.20 209.45) scale(0.94 1)" font-size="8.723" font-weight="bold" text-anchor="end" fill="#111" stroke="#111" stroke-width="0.22" >50</text>
<line x1="165.75" y1="214.50" x2="165.75" y2="228.20" stroke="#111" stroke-width="1.0" />
<line x1="160.35" y1="214.50" x2="171.15" y2="214.50" stroke="#111" stroke-width="1.0" />
<rect x="155.80" y="228.20" width="19.90" height="88.00" fill="#ED3088" stroke="#111" stroke-width="1.0"/>
<line x1="196.85" y1="245.30" x2="196.85" y2="251.10" stroke="#111" stroke-width="1.0" />
<line x1="191.45" y1="245.30" x2="202.25" y2="245.30" stroke="#111" stroke-width="1.0" />
<rect x="186.80" y="251.10" width="20.10" height="65.10" fill="#C6A5A5" stroke="#111" stroke-width="1.0"/>
<line x1="140.50" y1="316.20" x2="218.10" y2="316.20" stroke="#111" stroke-width="1.1" />
<line x1="165.70" y1="316.20" x2="165.70" y2="320.80" stroke="#111" stroke-width="1.1" />
<text transform="translate(168.20 328.20) rotate(-45) scale(0.94 1)" font-size="8.989" font-weight="bold" text-anchor="end" fill="#111" stroke="#111" stroke-width="0.22" >Co-CB2R<tspan font-size="6.08" dy="-2.79" font-weight="normal">-/-</tspan></text>
<line x1="196.80" y1="316.20" x2="196.80" y2="320.80" stroke="#111" stroke-width="1.1" />
<text transform="translate(199.30 328.20) rotate(-45) scale(0.94 1)" font-size="8.989" font-weight="bold" text-anchor="end" fill="#111" stroke="#111" stroke-width="0.22" >Co-WT</text>
<line x1="165.90" y1="208.70" x2="197.00" y2="208.70" stroke="#111" stroke-width="1.1" />
<text x="182.65" y="203.50" font-size="10.4" font-weight="normal" text-anchor="middle" fill="#111" stroke="#111" stroke-width="0.12">ns</text>
<text transform="translate(123.50 261.40) rotate(-90) scale(0.94 1)" font-size="9.255" font-weight="bold" text-anchor="middle" fill="#111" stroke="#111" stroke-width="0.22" >AST (U/L)</text>
<line x1="261.20" y1="205.75" x2="261.20" y2="316.75" stroke="#111" stroke-width="1.1" />
<line x1="256.50" y1="316.20" x2="261.20" y2="316.20" stroke="#111" stroke-width="1.1" />
<text transform="translate(254.60 319.15) scale(0.94 1)" font-size="8.723" font-weight="bold" text-anchor="end" fill="#111" stroke="#111" stroke-width="0.22" >0.0</text>
<line x1="256.50" y1="288.73" x2="261.20" y2="288.73" stroke="#111" stroke-width="1.1" />
<text transform="translate(254.60 291.68) scale(0.94 1)" font-size="8.723" font-weight="bold" text-anchor="end" fill="#111" stroke="#111" stroke-width="0.22" >0.2</text>
<line x1="256.50" y1="261.25" x2="261.20" y2="261.25" stroke="#111" stroke-width="1.1" />
<text transform="translate(254.60 264.20) scale(0.94 1)" font-size="8.723" font-weight="bold" text-anchor="end" fill="#111" stroke="#111" stroke-width="0.22" >0.4</text>
<line x1="256.50" y1="233.78" x2="261.20" y2="233.78" stroke="#111" stroke-width="1.1" />
<text transform="translate(254.60 236.72) scale(0.94 1)" font-size="8.723" font-weight="bold" text-anchor="end" fill="#111" stroke="#111" stroke-width="0.22" >0.6</text>
<line x1="256.50" y1="206.30" x2="261.20" y2="206.30" stroke="#111" stroke-width="1.1" />
<text transform="translate(254.60 209.25) scale(0.94 1)" font-size="8.723" font-weight="bold" text-anchor="end" fill="#111" stroke="#111" stroke-width="0.22" >0.8</text>
<line x1="281.65" y1="225.40" x2="281.65" y2="239.70" stroke="#111" stroke-width="1.0" />
<line x1="276.25" y1="225.40" x2="287.05" y2="225.40" stroke="#111" stroke-width="1.0" />
<rect x="271.60" y="239.70" width="20.10" height="76.50" fill="#ED3088" stroke="#111" stroke-width="1.0"/>
<line x1="312.95" y1="239.30" x2="312.95" y2="255.80" stroke="#111" stroke-width="1.0" />
<line x1="307.55" y1="239.30" x2="318.35" y2="239.30" stroke="#111" stroke-width="1.0" />
<rect x="303.00" y="255.80" width="19.90" height="60.40" fill="#C6A5A5" stroke="#111" stroke-width="1.0"/>
<line x1="256.90" y1="316.20" x2="333.90" y2="316.20" stroke="#111" stroke-width="1.1" />
<line x1="281.50" y1="316.20" x2="281.50" y2="320.80" stroke="#111" stroke-width="1.1" />
<text transform="translate(284.00 328.20) rotate(-45) scale(0.94 1)" font-size="8.989" font-weight="bold" text-anchor="end" fill="#111" stroke="#111" stroke-width="0.22" >Co-CB2R<tspan font-size="6.08" dy="-2.79" font-weight="normal">-/-</tspan></text>
<line x1="312.80" y1="316.20" x2="312.80" y2="320.80" stroke="#111" stroke-width="1.1" />
<text transform="translate(315.30 328.20) rotate(-45) scale(0.94 1)" font-size="8.989" font-weight="bold" text-anchor="end" fill="#111" stroke="#111" stroke-width="0.22" >Co-WT</text>
<line x1="282.90" y1="217.60" x2="313.80" y2="217.60" stroke="#111" stroke-width="1.1" />
<text x="299.55" y="212.50" font-size="10.4" font-weight="normal" text-anchor="middle" fill="#111" stroke="#111" stroke-width="0.12">ns</text>
<text transform="translate(236.50 261.60) rotate(-90) scale(0.94 1)" font-size="9.255" font-weight="bold" text-anchor="middle" fill="#111" stroke="#111" stroke-width="0.22" >TG (mmol/L)</text>
<line x1="369.70" y1="205.75" x2="369.70" y2="316.75" stroke="#111" stroke-width="1.1" />
<line x1="365.00" y1="316.20" x2="369.70" y2="316.20" stroke="#111" stroke-width="1.1" />
<text transform="translate(363.10 319.15) scale(0.94 1)" font-size="8.723" font-weight="bold" text-anchor="end" fill="#111" stroke="#111" stroke-width="0.22" >0</text>
<line x1="365.00" y1="279.57" x2="369.70" y2="279.57" stroke="#111" stroke-width="1.1" />
<text transform="translate(363.10 282.52) scale(0.94 1)" font-size="8.723" font-weight="bold" text-anchor="end" fill="#111" stroke="#111" stroke-width="0.22" >2</text>
<line x1="365.00" y1="242.93" x2="369.70" y2="242.93" stroke="#111" stroke-width="1.1" />
<text transform="translate(363.10 245.88) scale(0.94 1)" font-size="8.723" font-weight="bold" text-anchor="end" fill="#111" stroke="#111" stroke-width="0.22" >4</text>
<line x1="365.00" y1="206.30" x2="369.70" y2="206.30" stroke="#111" stroke-width="1.1" />
<text transform="translate(363.10 209.25) scale(0.94 1)" font-size="8.723" font-weight="bold" text-anchor="end" fill="#111" stroke="#111" stroke-width="0.22" >6</text>
<line x1="390.55" y1="212.10" x2="390.55" y2="227.40" stroke="#111" stroke-width="1.0" />
<line x1="385.15" y1="212.10" x2="395.95" y2="212.10" stroke="#111" stroke-width="1.0" />
<rect x="380.80" y="227.40" width="19.50" height="88.80" fill="#ED3088" stroke="#111" stroke-width="1.0"/>
<line x1="421.85" y1="257.70" x2="421.85" y2="263.50" stroke="#111" stroke-width="1.0" />
<line x1="416.45" y1="257.70" x2="427.25" y2="257.70" stroke="#111" stroke-width="1.0" />
<rect x="411.80" y="263.50" width="20.10" height="52.70" fill="#C6A5A5" stroke="#111" stroke-width="1.0"/>
<line x1="365.40" y1="316.20" x2="442.50" y2="316.20" stroke="#111" stroke-width="1.1" />
<line x1="390.30" y1="316.20" x2="390.30" y2="320.80" stroke="#111" stroke-width="1.1" />
<text transform="translate(392.80 328.20) rotate(-45) scale(0.94 1)" font-size="8.989" font-weight="bold" text-anchor="end" fill="#111" stroke="#111" stroke-width="0.22" >Co-CB2R<tspan font-size="6.08" dy="-2.79" font-weight="normal">-/-</tspan></text>
<line x1="421.40" y1="316.20" x2="421.40" y2="320.80" stroke="#111" stroke-width="1.1" />
<text transform="translate(423.90 328.20) rotate(-45) scale(0.94 1)" font-size="8.989" font-weight="bold" text-anchor="end" fill="#111" stroke="#111" stroke-width="0.22" >Co-WT</text>
<line x1="390.30" y1="207.70" x2="421.40" y2="207.70" stroke="#111" stroke-width="1.1" />
<text x="406.35" y="208.20" font-size="17" font-weight="normal" text-anchor="middle" fill="#111" >*</text>
<text transform="translate(353.00 261.40) rotate(-90) scale(0.94 1)" font-size="9.255" font-weight="bold" text-anchor="middle" fill="#111" stroke="#111" stroke-width="0.22" >TC (mmol/L)</text>
<line x1="478.60" y1="205.75" x2="478.60" y2="316.75" stroke="#111" stroke-width="1.1" />
<line x1="473.90" y1="316.20" x2="478.60" y2="316.20" stroke="#111" stroke-width="1.1" />
<text transform="translate(472.00 319.15) scale(0.94 1)" font-size="8.723" font-weight="bold" text-anchor="end" fill="#111" stroke="#111" stroke-width="0.22" >0</text>
<line x1="473.90" y1="288.73" x2="478.60" y2="288.73" stroke="#111" stroke-width="1.1" />
<text transform="translate(472.00 291.68) scale(0.94 1)" font-size="8.723" font-weight="bold" text-anchor="end" fill="#111" stroke="#111" stroke-width="0.22" >2</text>
<line x1="473.90" y1="261.25" x2="478.60" y2="261.25" stroke="#111" stroke-width="1.1" />
<text transform="translate(472.00 264.20) scale(0.94 1)" font-size="8.723" font-weight="bold" text-anchor="end" fill="#111" stroke="#111" stroke-width="0.22" >4</text>
<line x1="473.90" y1="233.78" x2="478.60" y2="233.78" stroke="#111" stroke-width="1.1" />
<text transform="translate(472.00 236.72) scale(0.94 1)" font-size="8.723" font-weight="bold" text-anchor="end" fill="#111" stroke="#111" stroke-width="0.22" >6</text>
<line x1="473.90" y1="206.30" x2="478.60" y2="206.30" stroke="#111" stroke-width="1.1" />
<text transform="translate(472.00 209.25) scale(0.94 1)" font-size="8.723" font-weight="bold" text-anchor="end" fill="#111" stroke="#111" stroke-width="0.22" >8</text>
<line x1="499.45" y1="225.40" x2="499.45" y2="230.20" stroke="#111" stroke-width="1.0" />
<line x1="494.05" y1="225.40" x2="504.85" y2="225.40" stroke="#111" stroke-width="1.0" />
<rect x="489.60" y="230.20" width="19.70" height="86.00" fill="#ED3088" stroke="#111" stroke-width="1.0"/>
<line x1="530.45" y1="240.90" x2="530.45" y2="246.30" stroke="#111" stroke-width="1.0" />
<line x1="525.05" y1="240.90" x2="535.85" y2="240.90" stroke="#111" stroke-width="1.0" />
<rect x="520.40" y="246.30" width="20.10" height="69.90" fill="#C6A5A5" stroke="#111" stroke-width="1.0"/>
<line x1="474.30" y1="316.20" x2="551.50" y2="316.20" stroke="#111" stroke-width="1.1" />
<line x1="499.30" y1="316.20" x2="499.30" y2="320.80" stroke="#111" stroke-width="1.1" />
<text transform="translate(501.80 328.20) rotate(-45) scale(0.94 1)" font-size="8.989" font-weight="bold" text-anchor="end" fill="#111" stroke="#111" stroke-width="0.22" >Co-CB2R<tspan font-size="6.08" dy="-2.79" font-weight="normal">-/-</tspan></text>
<line x1="530.80" y1="316.20" x2="530.80" y2="320.80" stroke="#111" stroke-width="1.1" />
<text transform="translate(533.30 328.20) rotate(-45) scale(0.94 1)" font-size="8.989" font-weight="bold" text-anchor="end" fill="#111" stroke="#111" stroke-width="0.22" >Co-WT</text>
<line x1="499.70" y1="221.40" x2="530.80" y2="221.40" stroke="#111" stroke-width="1.1" />
<text transform="translate(515.25 216.70) scale(0.94 1)" font-size="7.979" font-weight="bold" text-anchor="middle" fill="#111" stroke="#111" stroke-width="0.22" >0.0617</text>
<text transform="translate(460.60 261.00) rotate(-90) scale(0.94 1)" font-size="9.255" font-weight="bold" text-anchor="middle" fill="#111" stroke="#111" stroke-width="0.22" >Blood Glucose (mmol/L)</text>
<line x1="612.30" y1="206.85" x2="612.30" y2="316.75" stroke="#111" stroke-width="1.1" />
<line x1="607.60" y1="316.20" x2="612.30" y2="316.20" stroke="#111" stroke-width="1.1" />
<text transform="translate(605.70 319.15) scale(0.94 1)" font-size="8.723" font-weight="bold" text-anchor="end" fill="#111" stroke="#111" stroke-width="0.22" >0</text>
<line x1="607.60" y1="294.44" x2="612.30" y2="294.44" stroke="#111" stroke-width="1.1" />
<text transform="translate(605.70 297.39) scale(0.94 1)" font-size="8.723" font-weight="bold" text-anchor="end" fill="#111" stroke="#111" stroke-width="0.22" >2</text>
<line x1="607.60" y1="272.68" x2="612.30" y2="272.68" stroke="#111" stroke-width="1.1" />
<text transform="translate(605.70 275.63) scale(0.94 1)" font-size="8.723" font-weight="bold" text-anchor="end" fill="#111" stroke="#111" stroke-width="0.22" >4</text>
<line x1="607.60" y1="250.92" x2="612.30" y2="250.92" stroke="#111" stroke-width="1.1" />
<text transform="translate(605.70 253.87) scale(0.94 1)" font-size="8.723" font-weight="bold" text-anchor="end" fill="#111" stroke="#111" stroke-width="0.22" >6</text>
<line x1="607.60" y1="229.16" x2="612.30" y2="229.16" stroke="#111" stroke-width="1.1" />
<text transform="translate(605.70 232.11) scale(0.94 1)" font-size="8.723" font-weight="bold" text-anchor="end" fill="#111" stroke="#111" stroke-width="0.22" >8</text>
<line x1="607.60" y1="207.40" x2="612.30" y2="207.40" stroke="#111" stroke-width="1.1" />
<text transform="translate(605.70 210.35) scale(0.94 1)" font-size="8.723" font-weight="bold" text-anchor="end" fill="#111" stroke="#111" stroke-width="0.22" >10</text>
<line x1="633.00" y1="231.80" x2="633.00" y2="243.10" stroke="#111" stroke-width="1.0" />
<line x1="627.60" y1="231.80" x2="638.40" y2="231.80" stroke="#111" stroke-width="1.0" />
<rect x="623.20" y="243.10" width="19.60" height="73.10" fill="#ED3088" stroke="#111" stroke-width="1.0"/>
<line x1="663.55" y1="265.70" x2="663.55" y2="268.30" stroke="#111" stroke-width="1.0" />
<line x1="658.15" y1="265.70" x2="668.95" y2="265.70" stroke="#111" stroke-width="1.0" />
<rect x="653.40" y="268.30" width="20.30" height="47.90" fill="#C6A5A5" stroke="#111" stroke-width="1.0"/>
<line x1="608.00" y1="316.20" x2="686.00" y2="316.20" stroke="#111" stroke-width="1.1" />
<line x1="632.30" y1="316.20" x2="632.30" y2="320.80" stroke="#111" stroke-width="1.1" />
<text transform="translate(634.80 328.20) rotate(-45) scale(0.94 1)" font-size="8.989" font-weight="bold" text-anchor="end" fill="#111" stroke="#111" stroke-width="0.22" >Co-CB2R<tspan font-size="6.08" dy="-2.79" font-weight="normal">-/-</tspan></text>
<line x1="663.40" y1="316.20" x2="663.40" y2="320.80" stroke="#111" stroke-width="1.1" />
<text transform="translate(665.90 328.20) rotate(-45) scale(0.94 1)" font-size="8.989" font-weight="bold" text-anchor="end" fill="#111" stroke="#111" stroke-width="0.22" >Co-WT</text>
<line x1="632.70" y1="225.90" x2="663.90" y2="225.90" stroke="#111" stroke-width="1.1" />
<text transform="translate(648.30 221.40) scale(0.94 1)" font-size="7.979" font-weight="bold" text-anchor="middle" fill="#111" stroke="#111" stroke-width="0.22" >0.0788</text>
<text transform="translate(590.30 264.40) rotate(-90) scale(0.94 1)" font-size="8.617" font-weight="bold" text-anchor="middle" fill="#111" stroke="#111" stroke-width="0.22" >TG of Liver Tissue&#160;&#160;(mmol/mg)</text>
</svg>
</body></html>
